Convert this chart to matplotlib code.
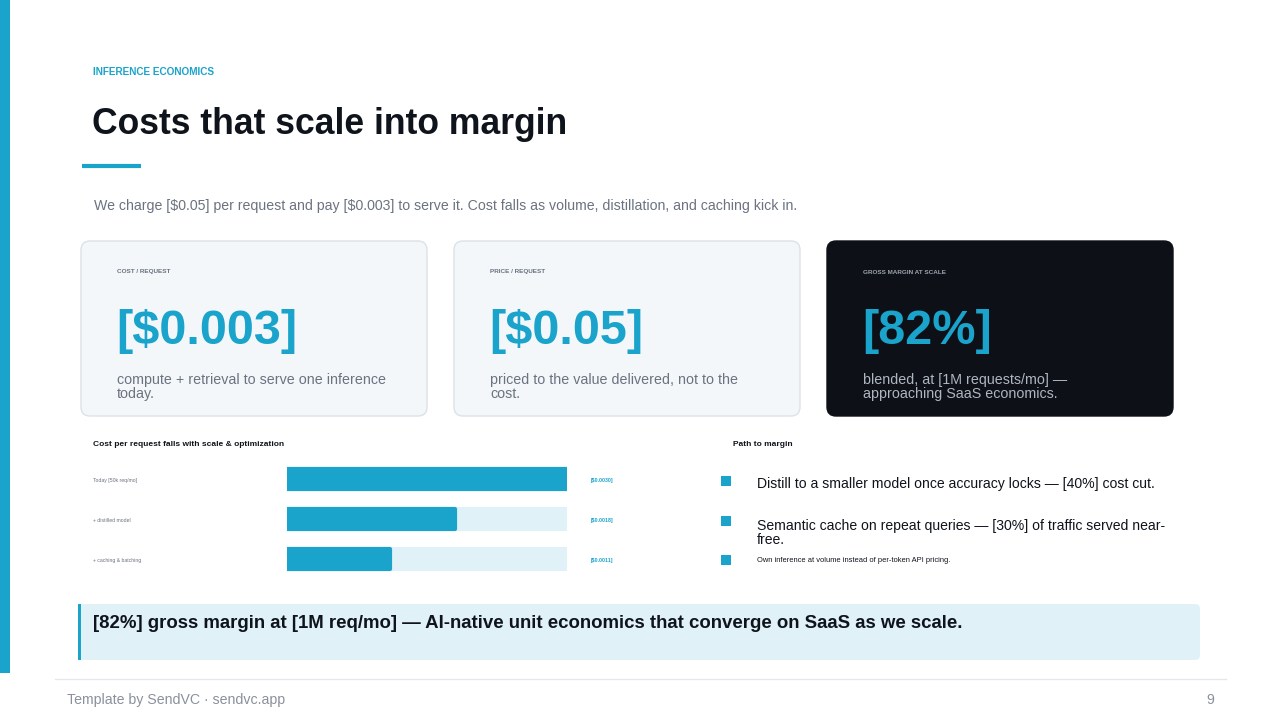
import matplotlib
matplotlib.use("Agg")
import matplotlib.pyplot as plt
from matplotlib.patches import FancyBboxPatch, Rectangle
from matplotlib.transforms import blended_transform_factory

# data
eyebrow = "INFERENCE ECONOMICS"
title = "Costs that scale into margin"
subtitle = (r"We charge [\$0.05] per request and pay [\$0.003] to serve it. "
            "Cost falls as volume, distillation, and caching kick in.")

card_labels = ["COST / REQUEST", "PRICE / REQUEST", "GROSS MARGIN AT SCALE"]
card_values = ["[$0.003]", "[$0.05]", "[82%]"]
card_notes = ["compute + retrieval to serve one inference\ntoday.",
              "priced to the value delivered, not to the\ncost.",
              "blended, at [1M requests/mo] —\napproaching SaaS economics."]

bar_title = "Cost per request falls with scale & optimization"
bar_cats = ["Today [50k req/mo]", "+ distilled model", "+ caching & batching"]
bar_costs = [0.0030, 0.0018, 0.0011]
bar_max = 0.0030

path_title = "Path to margin"
path_items = ["Distill to a smaller model once accuracy locks — [40%] cost cut.",
              "Semantic cache on repeat queries — [30%] of traffic served near-\nfree.",
              "Own inference at volume instead of per-token API pricing."]

callout = ("[82%] gross margin at [1M req/mo] — AI-native unit economics "
           "that converge on SaaS as we scale.")
footer = "Template by SendVC · sendvc.app"
page_no = "9"

blue = "#1AA3CB"
light = "#E1F1F8"
dark = "#0D1117"
ink = "#0F141C"
gray = "#6B7280"
card_bg = "#F3F7FA"
card_edge = "#DCE2E7"

plt.rcParams["font.family"] = ["Liberation Sans", "DejaVu Sans"]

fig = plt.figure(figsize=(12.8, 7.2), dpi=100, facecolor="white")
ax = fig.add_axes([0, 0, 1, 1])
ax.set_xlim(0, 1280)
ax.set_ylim(720, 0)
ax.axis("off")

# left accent strip
ax.add_patch(Rectangle((0, 0), 10, 673, facecolor=blue, edgecolor="none"))

ax.text(93, 72, eyebrow, fontsize=7.2, fontweight="bold", color=blue,
        va="center", ha="left")
ax.text(92, 124, title, fontsize=25.6, fontweight="bold", color=ink,
        va="center", ha="left")
ax.plot([82, 141], [166, 166], color=blue, linewidth=3, solid_capstyle="butt")
ax.text(94, 206, subtitle, fontsize=10.2, color=gray, va="center", ha="left")

# cards
card_x = [81, 454, 827]
for i, (lab, val, note) in enumerate(zip(card_labels, card_values, card_notes)):
    x0 = card_x[i]
    is_dark = i == 2
    ax.add_patch(FancyBboxPatch((x0, 241), 346, 175,
                                boxstyle="round,pad=0,rounding_size=9",
                                facecolor=dark if is_dark else card_bg,
                                edgecolor=dark if is_dark else card_edge,
                                linewidth=1))
    ax.text(x0 + 36, 272, lab, fontsize=4.6, fontweight="bold",
            color="#9CA3AF" if is_dark else gray, va="center", ha="left")
    ax.text(x0 + 35, 331, val, fontsize=35, fontweight="bold", color=blue,
            va="center", ha="left")
    ax.text(x0 + 36, 387, note, fontsize=10.3,
            color="#AEB6C1" if is_dark else gray, va="center", ha="left",
            linespacing=1.0)

# bar chart
ax.text(93, 445, bar_title, fontsize=6, fontweight="bold", color=ink,
        va="center", ha="left")
bx = fig.add_axes([287 / 1280, (720 - 579) / 720, 280 / 1280, 120 / 720])
ypos = list(range(len(bar_cats)))
bx.barh(ypos, [bar_max] * len(bar_cats), height=0.5, color=light,
        edgecolor=light, linewidth=3, joinstyle="round")
bx.barh(ypos, bar_costs, height=0.5, color=blue, edgecolor=blue,
        linewidth=3, joinstyle="round")
bx.set_xlim(0, bar_max)
bx.set_ylim(len(bar_cats) - 0.5, -0.5)
bx.axis("off")
tr = blended_transform_factory(bx.transAxes, bx.transData)
for y, cat, cost in zip(ypos, bar_cats, bar_costs):
    bx.text(-0.693, y + 0.03, cat, transform=tr, fontsize=3.7, color=gray,
            va="center", ha="left", clip_on=False)
    bx.text(1.086, y + 0.03, f"[${cost:.4f}]", transform=tr, fontsize=3.7,
            color=blue, fontweight="bold", va="center", ha="left", clip_on=False)

# path to margin
ax.text(733, 445, path_title, fontsize=6, fontweight="bold", color=ink,
        va="center", ha="left")
path_y = [481, 521, 560]
path_sizes = [10.1, 10.1, 5.4]
path_text_y = [484, 533, 561]
for i, item in enumerate(path_items):
    ax.add_patch(Rectangle((721, path_y[i] - 5), 10, 10, facecolor=blue,
                           edgecolor="none"))
    ax.text(757, path_text_y[i], item, fontsize=path_sizes[i], color=ink,
            va="center", ha="left", linespacing=1.0)

# callout
ax.add_patch(FancyBboxPatch((78, 604), 1122, 56,
                            boxstyle="round,pad=0,rounding_size=5",
                            facecolor=light, edgecolor="none"))
ax.add_patch(Rectangle((78, 604), 3, 56, facecolor=blue, edgecolor="none"))
ax.text(93, 624, callout, fontsize=13.4, fontweight="bold", color=ink,
        va="center", ha="left")

# footer
ax.plot([55, 1226], [679, 679], color="#E5E7EB", linewidth=1)
ax.text(67, 700, footer, fontsize=10.2, color="#8A919C", va="center", ha="left")
ax.text(1214, 700, page_no, fontsize=10.2, color="#8A919C", va="center",
        ha="right")

fig.savefig("out.png", dpi=100, facecolor="white")
